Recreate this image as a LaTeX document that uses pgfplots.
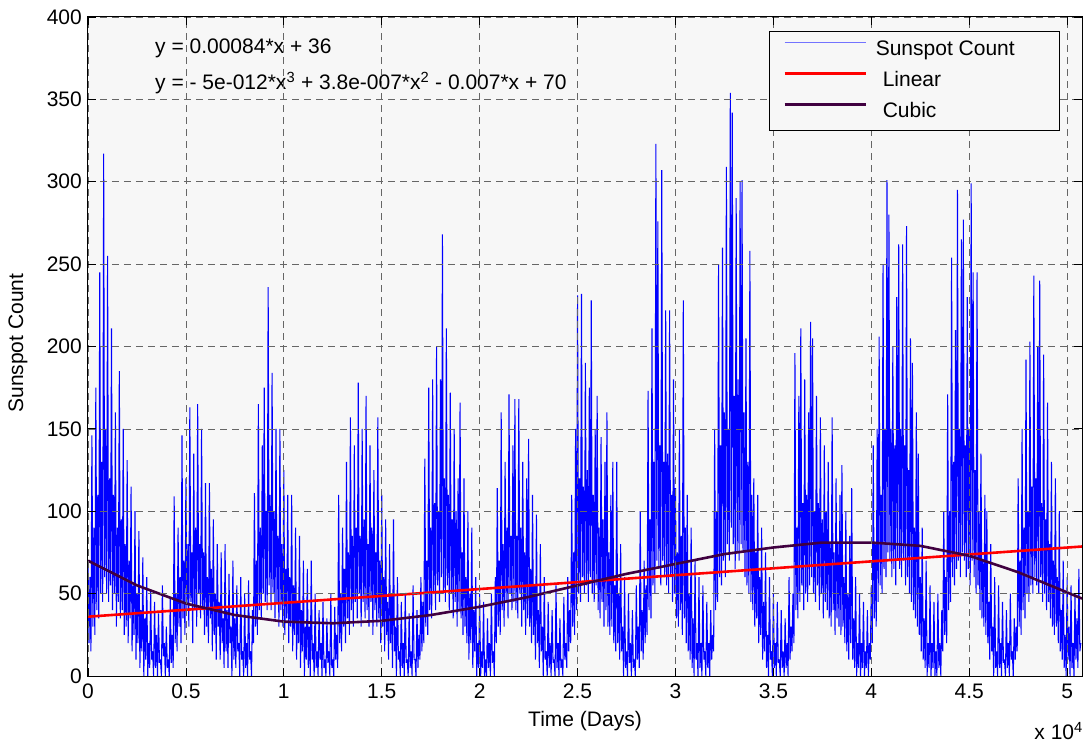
\documentclass[border=0pt]{standalone}
\usepackage{pgfplots}
\pgfplotsset{compat=1.18}
\usepackage{fontspec}
\setmainfont{Liberation Sans}
\definecolor{bgray}{RGB}{247,247,247}
\definecolor{cubicc}{RGB}{64,0,64}
\begin{document}
\fontsize{21bp}{25bp}\selectfont
\begin{tikzpicture}
\begin{axis}[
  at={(0,0)}, anchor=south west,
  scale only axis, width=994bp, height=659bp,
  xmin=0, xmax=50760, ymin=0, ymax=400,
  xtick={0,5000,10000,15000,20000,25000,30000,35000,40000,45000,50000},
  xticklabels={0,0.5,1,1.5,2,2.5,3,3.5,4,4.5,5},
  ytick={0,50,100,150,200,250,300,350,400},
  scaled x ticks=false,
  /pgf/number format/assume math mode=true,
  tick align=inside, tick pos=both, major tick length=8bp,
  tick style={black, line width=0.8bp},
  grid=major,
  major grid style={black!60, line width=0.7bp, dash pattern=on 7bp off 5bp},
  axis line style={black, line width=1bp},
  axis background/.style={fill=bgray},
  axis on top,
  xticklabel style={anchor=north, inner sep=0pt, yshift=-8bp},
  yticklabel style={anchor=east, inner sep=0pt, xshift=-6bp},
  xlabel={Time (Days)},
  xlabel style={at={(axis description cs:0.5,-0.0683)}, anchor=center},
  ylabel={Sunspot Count},
  ylabel style={at={(axis description cs:-0.0704,0.505)}, anchor=center},
  legend style={at={(rel axis cs:0.978,0.979)}, anchor=north east, draw=black, line width=0.8bp,
    fill=bgray, inner xsep=14bp, inner ysep=8bp, row sep=10bp, column sep=9bp,
    nodes={inner sep=0pt, text height=16bp, text depth=5bp}},
  legend cell align=left,
  legend image code/.code={\draw[#1] (0bp,7bp) -- (81bp,7bp); \path (0bp,0bp);},
]
\addplot[blue, line width=1.05bp, line join=miter, miter limit=2,
  legend image code/.code={\draw[blue!55, line width=0.9bp] (0bp,7bp) -- (81bp,7bp); \path (0bp,0bp);}] coordinates {
(0,70)(50,20)(100,60)(150,15)(200,146)(250,30)(300,90)(350,25)(400,175)(450,40)
(500,110)(550,35)(600,245)(650,50)(700,130)(750,45)(800,317)(850,60)(900,150)(950,50)
(1000,255)(1050,45)(1100,120)(1150,55)(1200,211)(1250,40)(1300,110)(1350,50)(1400,160)(1450,30)
(1500,90)(1550,45)(1600,185)(1650,35)(1700,95)(1750,40)(1800,150)(1850,25)(1900,80)(1950,30)
(2000,131)(2050,20)(2100,70)(2150,35)(2200,115)(2250,15)(2300,55)(2350,25)(2400,100)(2450,10)
(2500,50)(2550,20)(2600,88)(2650,5)(2700,40)(2750,15)(2800,72)(2850,0)(2900,35)(2950,10)
(3000,60)(3050,0)(3100,20)(3150,5)(3200,52)(3250,10)(3300,15)(3350,0)(3400,45)(3450,5)
(3500,25)(3550,0)(3600,38)(3650,8)(3700,10)(3750,0)(3800,55)(3850,12)(3900,20)(3950,0)
(4000,30)(4050,5)(4100,10)(4150,0)(4200,48)(4250,8)(4300,25)(4350,5)
(4400,109)(4450,20)(4500,50)(4550,15)(4600,90)(4650,30)(4700,60)(4750,20)(4800,146)(4850,35)
(4900,70)(4950,25)(5000,120)(5050,40)(5100,80)(5150,30)(5200,163)(5250,45)(5300,75)(5350,20)
(5400,135)(5450,40)(5500,90)(5550,30)(5600,165)(5650,50)(5700,80)(5750,35)(5800,150)(5850,40)
(5900,75)(5950,25)(6000,117)(6050,30)(6100,60)(6150,20)(6200,117)(6250,35)(6300,65)(6350,15)
(6400,95)(6450,25)(6500,50)(6550,10)(6600,80)(6650,30)(6700,45)(6750,10)(6800,75)(6850,20)
(6900,35)(6950,5)(7000,80)(7050,15)(7100,40)(7150,5)(7200,62)(7250,20)(7300,30)(7350,0)
(7400,70)(7450,10)(7500,35)(7550,5)(7600,55)(7650,15)(7700,20)(7750,0)(7800,60)(7850,10)
(7900,15)(7950,0)(8000,50)(8050,5)(8100,20)(8150,0)(8200,58)(8250,10)(8300,15)(8350,0)
(8400,40)(8450,20)
(8500,111)(8550,30)(8600,70)(8650,25)(8700,165)(8750,40)(8800,90)(8850,35)(8900,140)(8950,50)
(9000,175)(9050,45)(9100,100)(9150,40)(9200,236)(9250,55)(9300,110)(9350,40)(9400,184)(9450,50)
(9500,100)(9550,35)(9600,150)(9650,45)(9700,85)(9750,30)(9800,150)(9850,40)(9900,80)(9950,30)
(10000,125)(10050,25)(10100,65)(10150,35)(10200,110)(10250,20)(10300,60)(10350,30)(10400,110)(10450,15)
(10500,55)(10550,25)(10600,90)(10650,10)(10700,45)(10750,20)(10800,85)(10850,5)(10900,40)(10950,15)
(11000,70)(11050,0)(11100,30)(11150,10)(11200,65)(11250,5)(11300,30)(11350,0)(11400,70)(11450,10)
(11500,20)(11550,0)(11600,50)(11650,5)(11700,15)(11750,0)(11800,40)(11850,10)(11900,20)(11950,0)
(12000,45)(12050,5)(12100,10)(12150,0)(12200,35)(12250,8)(12300,15)(12350,0)(12400,50)(12450,5)
(12500,10)(12550,0)(12600,42)(12650,10)(12700,25)(12750,5)
(12800,110)(12850,20)(12900,50)(12950,15)(13000,90)(13050,30)(13100,65)(13150,20)(13200,130)(13250,35)
(13300,75)(13350,25)(13400,157)(13450,40)(13500,85)(13550,30)(13600,140)(13650,45)(13700,90)(13750,35)
(13800,178)(13850,50)(13900,85)(13950,30)(14000,150)(14050,45)(14100,95)(14150,35)(14200,170)(14250,40)
(14300,80)(14350,30)(14400,140)(14450,45)(14500,90)(14550,25)(14600,125)(14650,40)(14700,75)(14750,30)
(14800,157)(14850,35)(14900,70)(14950,20)(15000,110)(15050,30)(15100,60)(15150,15)(15200,95)(15250,25)
(15300,45)(15350,10)(15400,80)(15450,20)(15500,50)(15550,5)(15600,95)(15650,15)(15700,30)(15750,0)
(15800,60)(15850,10)(15900,15)(15950,0)(16000,45)(16050,5)(16100,20)(16150,0)(16200,50)(16250,8)
(16300,10)(16350,0)(16400,38)(16450,5)(16500,15)(16550,0)(16600,55)(16650,10)(16700,10)(16750,0)
(16800,40)(16850,5)(16900,25)(16950,10)
(17000,60)(17050,15)(17100,45)(17150,20)(17200,132)(17250,30)(17300,70)(17350,25)(17400,175)(17450,40)
(17500,90)(17550,35)(17600,180)(17650,50)(17700,105)(17750,40)(17800,200)(17850,55)(17900,100)(17950,45)
(18000,180)(18050,60)(18100,268)(18150,50)(18200,120)(18250,45)(18300,211)(18350,55)(18400,110)(18450,40)
(18500,172)(18550,50)(18600,95)(18650,35)(18700,150)(18750,45)(18800,100)(18850,30)(18900,120)(18950,40)
(19000,166)(19050,35)(19100,75)(19150,25)(19200,120)(19250,30)(19300,60)(19350,20)(19400,100)(19450,10)
(19500,50)(19550,20)(19600,90)(19650,5)(19700,40)(19750,15)(19800,60)(19850,0)(19900,20)(19950,5)
(20000,50)(20050,0)(20100,15)(20150,5)(20200,45)(20250,0)(20300,10)(20350,0)(20400,35)(20450,5)
(20500,20)(20550,0)(20600,50)(20650,8)(20700,15)(20750,0)(20800,60)(20850,20)
(20900,114)(20950,30)(21000,70)(21050,25)(21100,160)(21150,40)(21200,80)(21250,30)(21300,130)(21350,45)
(21400,90)(21450,35)(21500,171)(21550,50)(21600,85)(21650,40)(21700,140)(21750,45)(21800,168)(21850,40)
(21900,85)(21950,35)(22000,168)(22050,50)(22100,90)(22150,30)(22200,130)(22250,40)(22300,75)(22350,25)
(22400,120)(22450,35)(22500,144)(22550,30)(22600,65)(22650,20)(22700,110)(22750,25)(22800,55)(22850,10)
(22900,98)(22950,20)(23000,40)(23050,5)(23100,80)(23150,15)(23200,30)(23250,0)(23300,60)(23350,10)
(23400,15)(23450,0)(23500,45)(23550,5)(23600,20)(23650,0)(23700,40)(23750,8)(23800,10)(23850,0)
(23900,55)(23950,5)(24000,20)(24050,0)(24100,35)(24150,5)(24200,10)(24250,0)(24300,48)(24350,10)
(24400,20)(24450,5)(24500,60)(24550,15)(24600,40)(24650,20)
(24700,110)(24750,30)(24800,75)(24850,25)(24900,150)(24950,40)(25000,231)(25050,50)(25100,120)(25150,45)
(25200,232)(25250,60)(25300,115)(25350,50)(25400,190)(25450,55)(25500,125)(25550,45)(25600,175)(25650,60)
(25700,228)(25750,50)(25800,110)(25850,45)(25900,150)(25950,55)(26000,170)(26050,40)(26100,90)(26150,35)
(26200,145)(26250,45)(26300,95)(26350,30)(26400,130)(26450,40)(26500,160)(26550,30)(26600,75)(26650,25)
(26700,110)(26750,30)(26800,130)(26850,20)(26900,55)(26950,15)(27000,130)(27050,20)(27100,50)(27150,10)
(27200,80)(27250,15)(27300,30)(27350,0)(27400,60)(27450,5)(27500,15)(27550,0)(27600,50)(27650,8)
(27700,20)(27750,0)(27800,40)(27850,5)(27900,10)(27950,0)(28000,55)(28050,10)(28100,30)(28150,5)
(28200,100)(28250,15)(28300,40)(28350,10)(28400,70)(28450,20)(28500,55)(28550,25)
(28600,173)(28650,40)(28700,95)(28750,35)(28800,211)(28850,55)(28900,130)(28950,50)(29000,323)(29050,70)
(29100,276)(29150,65)(29200,140)(29250,55)(29300,307)(29350,70)(29400,130)(29450,60)(29500,222)(29550,55)
(29600,135)(29650,50)(29700,222)(29750,60)(29800,110)(29850,45)(29900,180)(29950,50)(30000,114)(30050,35)
(30100,75)(30150,30)(30200,150)(30250,40)(30300,85)(30350,25)(30400,228)(30450,35)(30500,90)(30550,20)
(30600,110)(30650,15)(30700,50)(30750,10)(30800,90)(30850,5)(30900,35)(30950,0)(31000,70)(31050,10)
(31100,20)(31150,0)(31200,60)(31250,5)(31300,20)(31350,0)(31400,55)(31450,10)(31500,15)(31550,0)
(31600,45)(31650,5)(31700,20)(31750,0)(31800,40)(31850,10)(31900,25)(31950,15)
(32000,150)(32050,40)(32100,100)(32150,45)(32200,250)(32250,60)(32300,140)(32350,55)(32400,260)(32450,70)
(32500,160)(32550,60)(32600,309)(32650,80)(32700,150)(32750,70)(32800,354)(32850,90)(32900,342)(32950,80)
(33000,170)(33050,65)(33100,290)(33150,75)(33200,180)(33250,70)(33300,300)(33350,80)(33400,301)(33450,75)
(33500,160)(33550,60)(33600,205)(33650,55)(33700,130)(33750,50)(33800,258)(33850,45)(33900,110)(33950,40)
(34000,120)(34050,30)(34100,75)(34150,35)(34200,110)(34250,20)(34300,60)(34350,25)(34400,90)(34450,10)
(34500,45)(34550,15)(34600,75)(34650,5)(34700,25)(34750,0)(34800,60)(34850,10)(34900,15)(34950,0)
(35000,50)(35050,5)(35100,20)(35150,0)(35200,45)(35250,8)(35300,10)(35350,0)(35400,40)(35450,5)
(35500,15)(35550,0)(35600,35)(35650,5)(35700,20)(35750,0)(35800,60)(35850,10)(35900,30)(35950,15)
(36000,50)(36050,20)(36100,196)(36150,40)(36200,90)(36250,35)(36300,170)(36350,45)(36400,211)(36450,55)
(36500,105)(36550,40)(36600,180)(36650,50)(36700,110)(36750,45)(36800,160)(36850,55)(36900,215)(36950,60)
(37000,205)(37050,50)(37100,100)(37150,45)(37200,170)(37250,55)(37300,105)(37350,40)(37400,157)(37450,50)
(37500,95)(37550,35)(37600,140)(37650,45)(37700,100)(37750,40)(37800,130)(37850,35)(37900,80)(37950,30)
(38000,157)(38050,40)(38100,75)(38150,25)(38200,120)(38250,35)(38300,80)(38350,30)(38400,110)(38450,25)
(38500,128)(38550,30)(38600,60)(38650,20)(38700,100)(38750,15)(38800,50)(38850,10)(38900,85)(38950,20)
(39000,114)(39050,10)(39100,35)(39150,5)(39200,60)(39250,0)(39300,20)(39350,5)(39400,50)(39450,0)
(39500,20)(39550,5)(39600,45)(39650,0)(39700,15)(39750,5)(39800,40)(39850,0)(39900,20)(39950,10)
(40000,55)(40050,20)(40100,140)(40150,35)(40200,80)(40250,30)(40300,150)(40350,45)(40400,206)(40450,55)
(40500,110)(40550,50)(40600,250)(40650,65)(40700,150)(40750,60)(40800,301)(40850,75)(40900,280)(40950,70)
(41000,150)(41050,60)(41100,200)(41150,65)(41200,140)(41250,55)(41300,230)(41350,70)(41400,262)(41450,65)
(41500,150)(41550,60)(41600,262)(41650,70)(41700,140)(41750,55)(41800,273)(41850,60)(41900,125)(41950,50)
(42000,205)(42050,45)(42100,190)(42150,40)(42200,90)(42250,35)(42300,160)(42350,30)(42400,135)(42450,25)
(42500,60)(42550,15)(42600,90)(42650,10)(42700,35)(42750,5)(42800,70)(42850,0)(42900,20)(42950,5)
(43000,55)(43050,0)(43100,20)(43150,5)(43200,45)(43250,0)(43300,15)(43350,0)(43400,50)(43450,5)
(43500,20)(43550,0)(43600,40)(43650,15)
(43700,100)(43750,25)(43800,60)(43850,20)(43900,171)(43950,40)(44000,100)(44050,45)(44100,254)(44150,60)
(44200,130)(44250,55)(44300,210)(44350,65)(44400,295)(44450,70)(44500,150)(44550,60)(44600,265)(44650,75)
(44700,277)(44750,70)(44800,140)(44850,60)(44900,230)(44950,65)(45000,150)(45050,55)(45100,299)(45150,70)
(45200,245)(45250,60)(45300,125)(45350,50)(45400,245)(45450,55)(45500,100)(45550,40)(45600,135)(45650,35)
(45700,70)(45750,30)(45800,110)(45850,25)(45900,100)(45950,20)(46000,45)(46050,10)(46100,80)(46150,15)
(46200,30)(46250,0)(46300,60)(46350,5)(46400,15)(46450,0)(46500,55)(46550,5)(46600,20)(46650,0)
(46700,45)(46750,8)(46800,10)(46850,0)(46900,40)(46950,5)(47000,20)(47050,0)(47100,50)(47150,10)
(47200,15)(47250,0)(47300,35)(47350,10)(47400,30)(47450,15)
(47500,120)(47550,30)(47600,70)(47650,25)(47700,150)(47750,40)(47800,90)(47850,35)(47900,192)(47950,50)
(48000,100)(48050,45)(48100,203)(48150,55)(48200,115)(48250,50)(48300,243)(48350,60)(48400,120)(48450,55)
(48500,200)(48550,50)(48600,240)(48650,60)(48700,105)(48750,45)(48800,195)(48850,50)(48900,95)(48950,40)
(49000,166)(49050,45)(49100,80)(49150,35)(49200,130)(49250,30)(49300,70)(49350,25)(49400,120)(49450,30)
(49500,60)(49550,20)(49600,100)(49650,15)(49700,40)(49750,10)(49800,70)(49850,5)(49900,25)(49950,0)
(50000,60)(50050,10)(50100,30)(50150,0)(50200,55)(50250,5)(50300,20)(50350,0)(50400,50)(50450,10)
(50500,35)(50550,5)(50600,65)(50650,15)(50700,20)
};
\addlegendentry{Sunspot Count\hspace*{31bp}}
\addplot[red, line width=2.6bp] coordinates {(0,36)(50760,78.6)};
\addlegendentry{\hspace*{7bp}Linear}
\addplot[cubicc, line width=2.6bp] coordinates {
(0,70)(2500,55)(5000,44)(7500,37)(10000,33)(12500,32)(15000,33.5)(17500,37)(20000,42)(22500,48)
(25000,55)(27500,62)(30000,68)(32500,74)(35000,78)(37500,81)(40000,81)(42500,79)(45000,73)(47500,63)(50760,47)};
\addlegendentry{\hspace*{7bp}Cubic}
\node[anchor=west, inner sep=0pt] at (rel axis cs:0.0674,0.953) {y = 0.00084*x + 36};
\node[anchor=west, inner sep=0pt] at (rel axis cs:0.0674,0.900) {y = - 5e-012*x\textsuperscript{3} + 3.8e-007*x\textsuperscript{2} - 0.007*x + 70};
\end{axis}
\node[anchor=south east, inner sep=0pt] at (995bp,-64bp) {x 10\textsuperscript{4}};
\pgfresetboundingbox
\useasboundingbox (-88bp,-67bp) rectangle (995bp,676bp);
\end{tikzpicture}
\end{document}
